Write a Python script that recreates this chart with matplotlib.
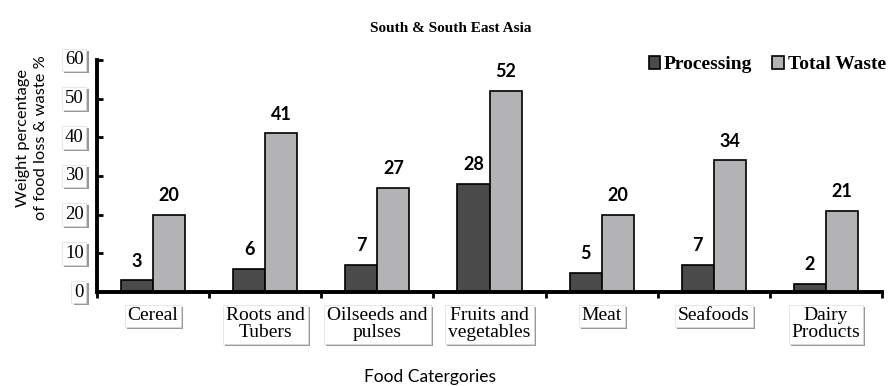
import numpy as np
import matplotlib.pyplot as plt
import matplotlib.patheffects as pe

categories = ["Cereal", "Roots and\nTubers", "Oilseeds and\npulses", "Fruits and\nvegetables",
              "Meat", "Seafoods", "Dairy\nProducts"]
processing = [3, 6, 7, 28, 5, 7, 2]
total_waste = [20, 41, 27, 52, 20, 34, 21]
yticks = [0, 10, 20, 30, 40, 50, 60]

fig = plt.figure(figsize=(8.9, 3.86), dpi=100)
ax = fig.add_axes([0.109, 0.2435, 0.882, 0.6015])

x = np.arange(len(categories))
w = 0.286
b1 = ax.bar(x - w / 2, processing, w, color="#4b4b4b", edgecolor="black", linewidth=1.2, label="Processing")
b2 = ax.bar(x + w / 2, total_waste, w, color="#b3b3b5", edgecolor="black", linewidth=1.2, label="Total Waste")

for bars, vals in ((b1, processing), (b2, total_waste)):
    for r, v in zip(bars, vals):
        ax.text(r.get_x() + r.get_width() / 2, v + 2.8, str(v), ha="center", va="bottom",
                fontsize=13, fontweight="bold", family="Lato")

ax.set_xlim(-0.5, len(categories) - 0.5)
ax.set_ylim(0, 60)
for s in ["top", "right"]:
    ax.spines[s].set_visible(False)
ax.spines["left"].set_linewidth(2.8)
ax.spines["bottom"].set_linewidth(2.8)

shadow = [pe.withSimplePatchShadow(offset=(1.5, -1.5), shadow_rgbFace="#555555", alpha=0.6)]
box = dict(boxstyle="square,pad=0.15", fc="white", ec="#dddddd", lw=0.5)

ax.set_yticks(yticks)
ax.set_yticklabels([])
ax.tick_params(axis="y", direction="in", length=4, width=2)
for v in yticks:
    t = ax.text(-0.017, v, str(v), transform=ax.get_yaxis_transform(), ha="right", va="center",
                fontsize=13.5, family="Liberation Serif", bbox=box)
    t.get_bbox_patch().set_path_effects(shadow)

ax.set_xticks(np.arange(len(categories) + 1) - 0.5)
ax.set_xticklabels([])
ax.tick_params(axis="x", direction="out", length=4, width=2)
for i, c in enumerate(categories):
    t = ax.text(i, -4, c, ha="center", va="top", fontsize=14, family="Liberation Serif",
                linespacing=1.0, bbox=box)
    t.get_bbox_patch().set_path_effects(shadow)

ax.set_ylabel("Weight percentage\nof food loss & waste %", family="Lato", fontsize=11.8,
              linespacing=1.4)
ax.yaxis.set_label_coords(-0.062, 0.665)
fig.text(0.483, 0.01, "Food Catergories", ha="center", family="Lato", fontsize=12.5)
fig.text(0.506, 0.927, "South & South East Asia", ha="center", va="center",
         family="Liberation Serif", fontsize=11, fontweight="bold")

ax.legend(loc="upper right", bbox_to_anchor=(1.027, 1.09), ncol=2, frameon=False,
          prop={"family": "Liberation Serif", "weight": "bold", "size": 14},
          handlelength=0.6, handleheight=0.6, handletextpad=0.2, columnspacing=1.0)

fig.savefig("out.png", dpi=100)
